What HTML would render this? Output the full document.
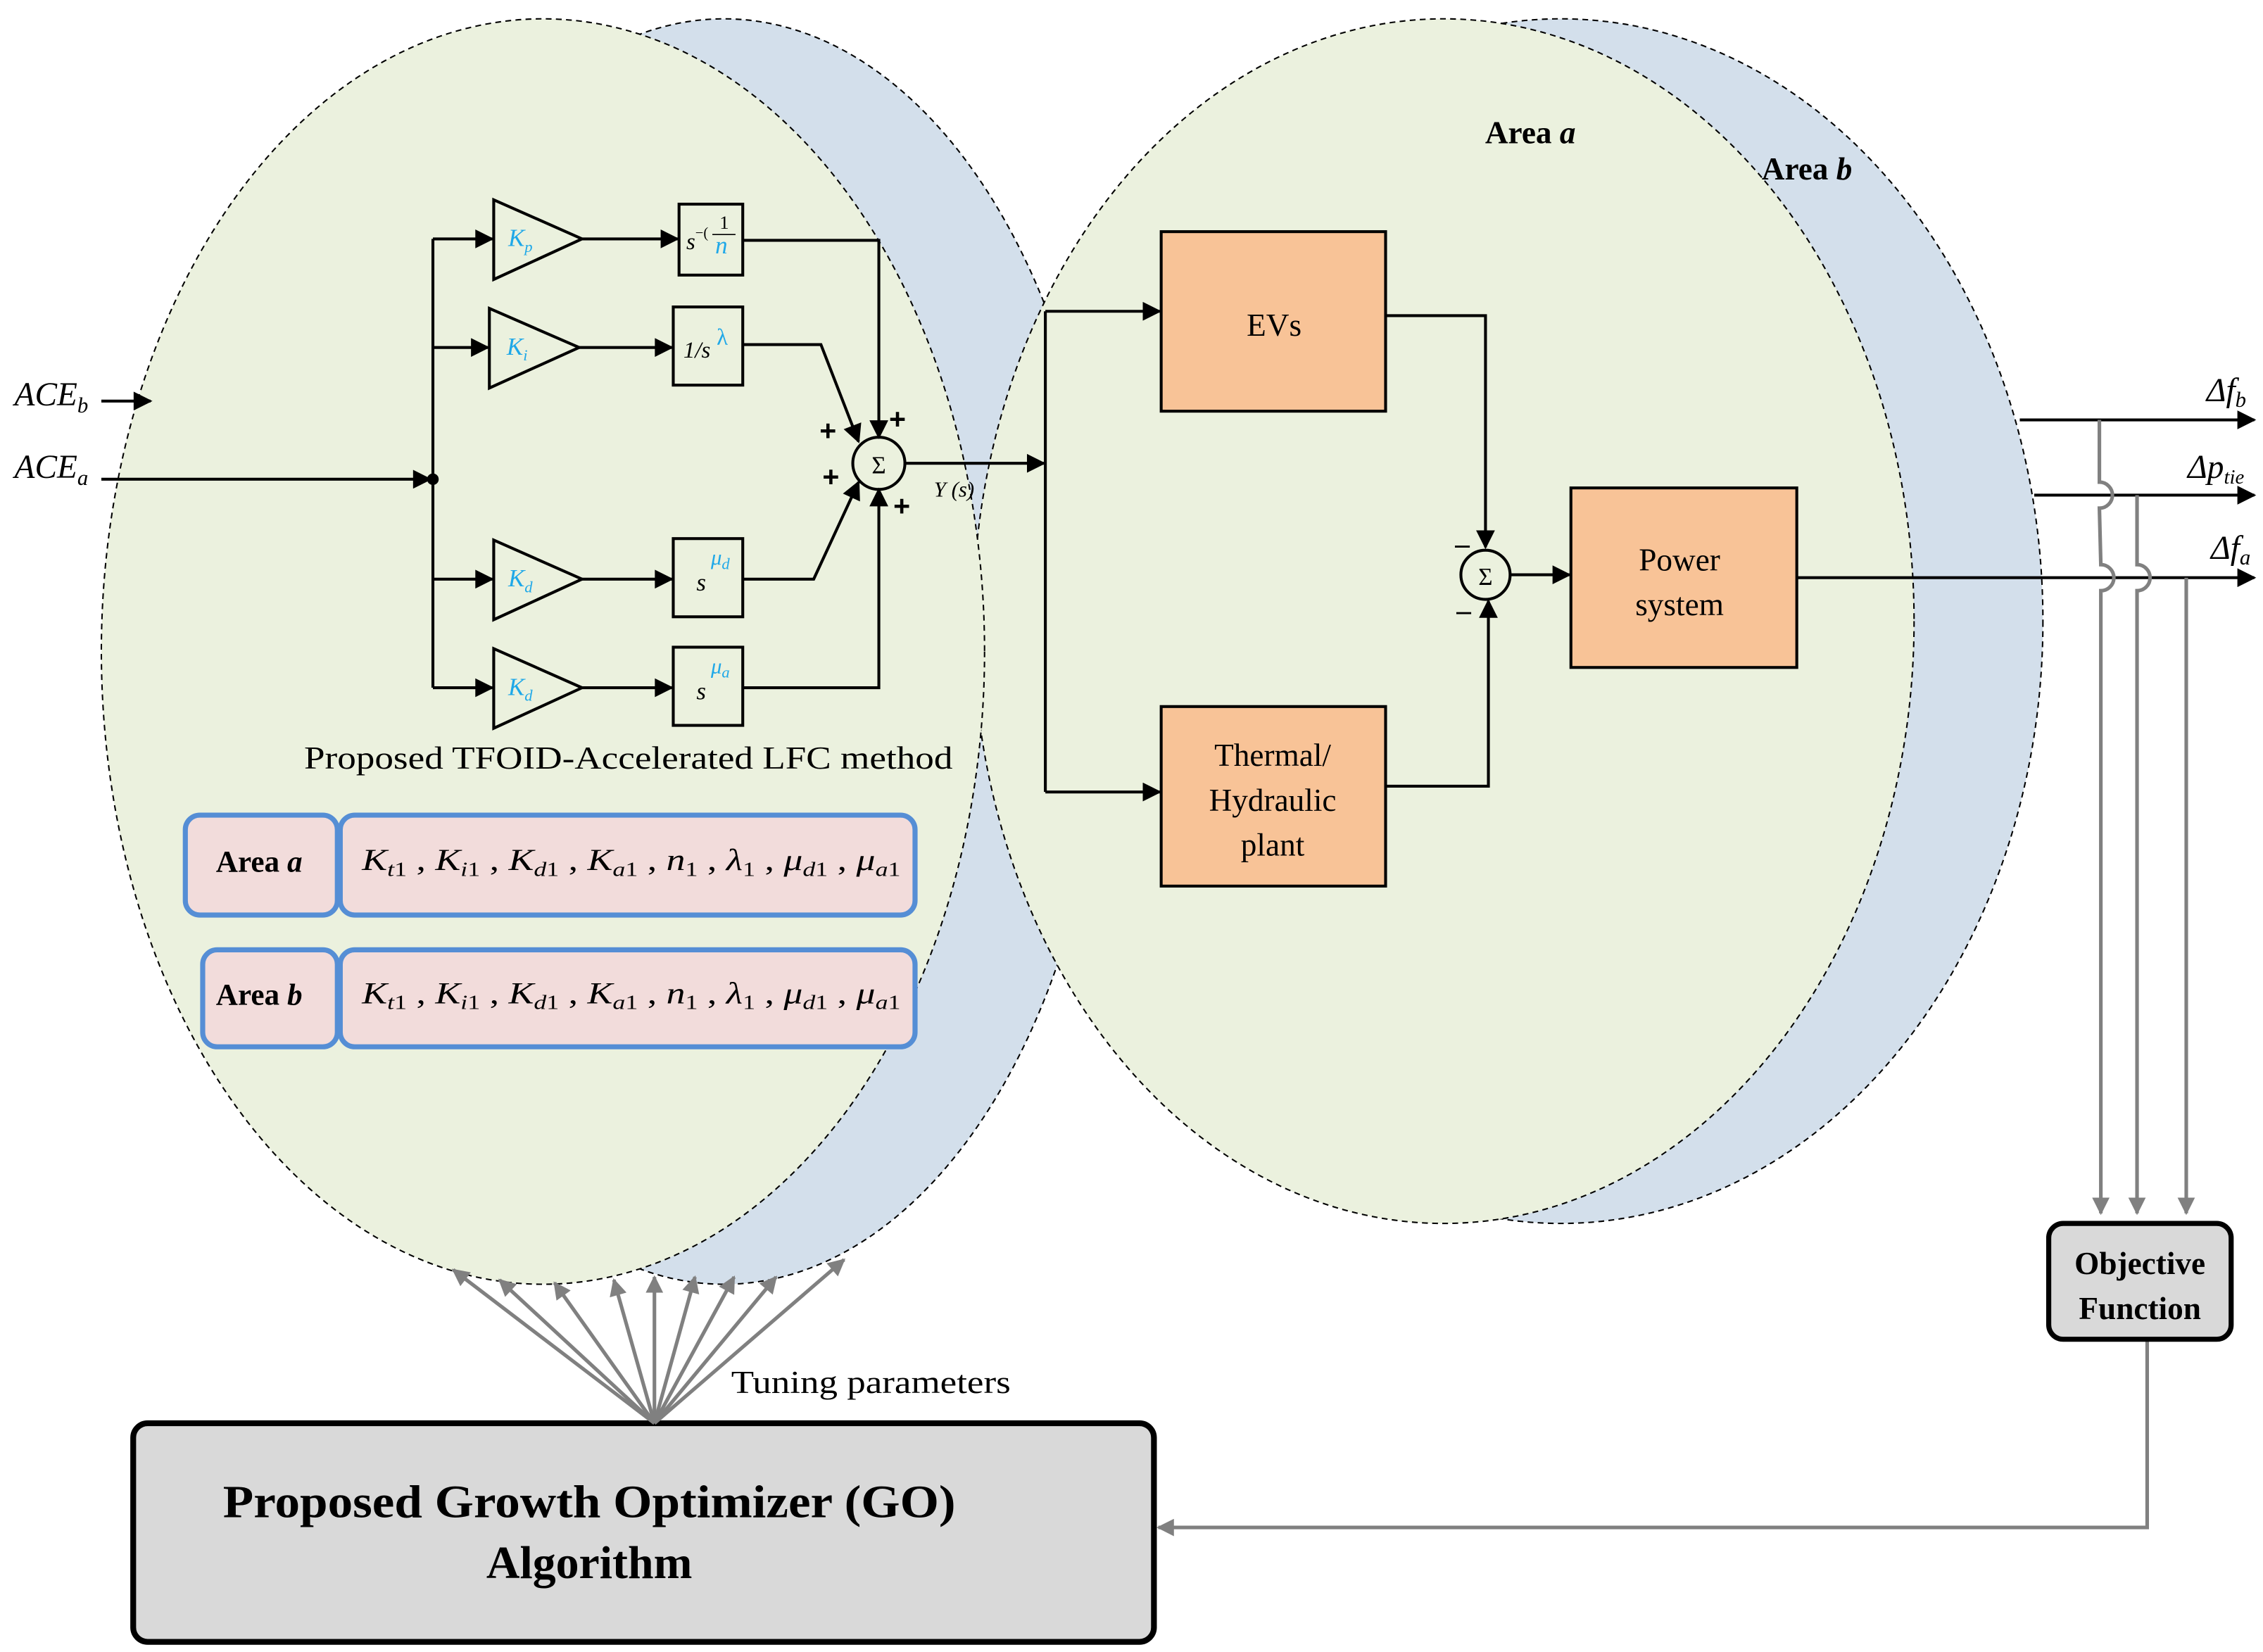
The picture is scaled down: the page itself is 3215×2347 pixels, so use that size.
<!DOCTYPE html>
<html><head><meta charset="utf-8"><style>
html,body{margin:0;padding:0;background:#fff;}
svg{display:block;font-family:"Liberation Serif",serif;}
</style></head><body>
<svg width="3215" height="2347" viewBox="0 0 1563 1141" preserveAspectRatio="none" xmlns="http://www.w3.org/2000/svg" font-family="Liberation Serif, serif">
<defs>
<marker id="ab" viewBox="0 0 10 10" refX="9" refY="5" markerWidth="15" markerHeight="13" orient="auto" markerUnits="userSpaceOnUse"><path d="M0,0L10,5L0,10z" fill="#000"/></marker>
<marker id="g" viewBox="0 0 10 10" refX="9" refY="5" markerWidth="14" markerHeight="12" orient="auto" markerUnits="userSpaceOnUse"><path d="M0,0L10,5L0,10z" fill="#808080"/></marker>
</defs>
<rect width="1563" height="1141" fill="#fff"/>
<ellipse cx="500" cy="450" rx="265" ry="437" fill="#d3dfeb" stroke="#000" stroke-dasharray="4,3" stroke-width="1"/>
<ellipse cx="1078" cy="429" rx="333" ry="416" fill="#d3dfeb" stroke="#000" stroke-dasharray="4,3" stroke-width="1"/>
<ellipse cx="997" cy="429" rx="325" ry="416" fill="#ebf1de" stroke="#000" stroke-dasharray="4,3" stroke-width="1"/>
<ellipse cx="375" cy="450" rx="305" ry="437" fill="#ebf1de" stroke="#000" stroke-dasharray="4,3" stroke-width="1"/>

<text x="1057" y="99" font-size="22" font-weight="bold" text-anchor="middle">Area <tspan font-style="italic">a</tspan></text>
<text x="1248" y="124" font-size="22" font-weight="bold" text-anchor="middle">Area <tspan font-style="italic">b</tspan></text>

<g stroke="#000" stroke-width="2" fill="none">
<line x1="70" y1="277" x2="104" y2="277" marker-end="url(#ab)"/>
<line x1="70" y1="331" x2="297" y2="331" marker-end="url(#ab)"/>
<line x1="299" y1="165" x2="299" y2="475"/>
<line x1="299" y1="165" x2="340" y2="165" marker-end="url(#ab)"/>
<line x1="299" y1="240" x2="337" y2="240" marker-end="url(#ab)"/>
<line x1="299" y1="400" x2="340" y2="400" marker-end="url(#ab)"/>
<line x1="299" y1="475" x2="340" y2="475" marker-end="url(#ab)"/>
<path d="M341,138L341,193L402,165z"/>
<path d="M338,213L338,268L400,240z"/>
<path d="M341,373L341,428L402,400z"/>
<path d="M341,448L341,503L402,475z"/>
<line x1="402" y1="165" x2="468" y2="165" marker-end="url(#ab)"/>
<line x1="400" y1="240" x2="464" y2="240" marker-end="url(#ab)"/>
<line x1="402" y1="400" x2="464" y2="400" marker-end="url(#ab)"/>
<line x1="402" y1="475" x2="464" y2="475" marker-end="url(#ab)"/>
<rect x="469" y="141" width="44" height="49"/>
<rect x="465" y="212" width="48" height="54"/>
<rect x="465" y="372" width="48" height="54"/>
<rect x="465" y="447" width="48" height="54"/>
<polyline points="513,166 607,166 607,302" marker-end="url(#ab)"/>
<polyline points="513,238 567,238 593,305" marker-end="url(#ab)"/>
<polyline points="513,400 562,400 593,333" marker-end="url(#ab)"/>
<polyline points="513,475 607,475 607,338" marker-end="url(#ab)"/>
<circle cx="607" cy="320" r="18"/>
<line x1="625" y1="320" x2="721" y2="320" marker-end="url(#ab)"/>
<line x1="722" y1="215" x2="722" y2="547"/>
<line x1="722" y1="215" x2="801" y2="215" marker-end="url(#ab)"/>
<line x1="722" y1="547" x2="801" y2="547" marker-end="url(#ab)"/>
</g>
<circle cx="299" cy="331" r="4" fill="#000"/>
<text x="607" y="327" font-size="17" text-anchor="middle">Σ</text>
<g font-size="20" font-weight="bold" font-family="Liberation Sans, sans-serif">
<text x="614" y="296">+</text><text x="566" y="304">+</text><text x="568" y="336">+</text><text x="617" y="356">+</text>
</g>
<text x="645" y="343" font-size="15" font-style="italic">Y (s)</text>
<g font-style="italic" fill="#1fa8e8" font-size="17">
<text x="351" y="170">K<tspan font-size="11" dy="4">p</tspan></text>
<text x="350" y="245">K<tspan font-size="11" dy="4">i</tspan></text>
<text x="351" y="405">K<tspan font-size="11" dy="4">d</tspan></text>
<text x="351" y="480">K<tspan font-size="11" dy="4">d</tspan></text>
</g>
<text x="474" y="172" font-size="16" font-style="italic">s<tspan font-size="10" dy="-8" font-style="normal">−(</tspan></text>
<text x="497" y="158" font-size="13">1</text>
<line x1="492" y1="162" x2="508" y2="162" stroke="#000" stroke-width="0.8"/>
<text x="494" y="175" font-size="17" font-style="italic" fill="#1fa8e8">n</text>
<text x="472" y="247" font-size="16" font-style="italic">1/s</text>
<text x="495" y="238" font-size="16" fill="#1fa8e8">λ</text>
<text x="481" y="408" font-size="17" font-style="italic">s</text>
<text x="491" y="390" font-size="15" font-style="italic" fill="#1fa8e8">μ<tspan font-size="11" dy="3">d</tspan></text>
<text x="481" y="483" font-size="17" font-style="italic">s</text>
<text x="491" y="465" font-size="15" font-style="italic" fill="#1fa8e8">μ<tspan font-size="11" dy="3">a</tspan></text>

<text x="210" y="531" font-size="22" textLength="448" lengthAdjust="spacingAndGlyphs">Proposed TFOID-Accelerated LFC method</text>

<g fill="#f2dcdb" stroke="#558ed5" stroke-width="3.5">
<rect x="128" y="563" width="105" height="69" rx="10"/>
<rect x="235" y="563" width="397" height="69" rx="10"/>
<rect x="140" y="656" width="93" height="67" rx="10"/>
<rect x="235" y="656" width="397" height="67" rx="10"/>
</g>
<text x="179" y="602" font-size="21" font-weight="bold" text-anchor="middle">Area <tspan font-style="italic">a</tspan></text>
<text x="179" y="694" font-size="21" font-weight="bold" text-anchor="middle">Area <tspan font-style="italic">b</tspan></text>
<g font-size="21" font-style="italic">
<text x="250" y="601" textLength="372" lengthAdjust="spacingAndGlyphs">K<tspan font-size="14" dy="4">t</tspan><tspan font-size="14" font-style="normal">1</tspan><tspan dy="-4" font-style="normal"> , </tspan>K<tspan font-size="14" dy="4">i</tspan><tspan font-size="14" font-style="normal">1</tspan><tspan dy="-4" font-style="normal">  , </tspan>K<tspan font-size="14" dy="4">d</tspan><tspan font-size="14" font-style="normal">1</tspan><tspan dy="-4" font-style="normal"> , </tspan>K<tspan font-size="14" dy="4">a</tspan><tspan font-size="14" font-style="normal">1</tspan><tspan dy="-4" font-style="normal"> , </tspan>n<tspan font-size="14" dy="4" font-style="normal">1</tspan><tspan dy="-4" font-style="normal"> , </tspan>λ<tspan font-size="14" dy="4" font-style="normal">1</tspan><tspan dy="-4" font-style="normal"> , </tspan>μ<tspan font-size="14" dy="4">d</tspan><tspan font-size="14" font-style="normal">1</tspan><tspan dy="-4" font-style="normal"> , </tspan>μ<tspan font-size="14" dy="4">a</tspan><tspan font-size="14" font-style="normal">1</tspan></text>
<text x="250" y="693" textLength="372" lengthAdjust="spacingAndGlyphs">K<tspan font-size="14" dy="4">t</tspan><tspan font-size="14" font-style="normal">1</tspan><tspan dy="-4" font-style="normal"> , </tspan>K<tspan font-size="14" dy="4">i</tspan><tspan font-size="14" font-style="normal">1</tspan><tspan dy="-4" font-style="normal">  , </tspan>K<tspan font-size="14" dy="4">d</tspan><tspan font-size="14" font-style="normal">1</tspan><tspan dy="-4" font-style="normal"> , </tspan>K<tspan font-size="14" dy="4">a</tspan><tspan font-size="14" font-style="normal">1</tspan><tspan dy="-4" font-style="normal"> , </tspan>n<tspan font-size="14" dy="4" font-style="normal">1</tspan><tspan dy="-4" font-style="normal"> , </tspan>λ<tspan font-size="14" dy="4" font-style="normal">1</tspan><tspan dy="-4" font-style="normal"> , </tspan>μ<tspan font-size="14" dy="4">d</tspan><tspan font-size="14" font-style="normal">1</tspan><tspan dy="-4" font-style="normal"> , </tspan>μ<tspan font-size="14" dy="4">a</tspan><tspan font-size="14" font-style="normal">1</tspan></text>
</g>

<text x="10" y="280" font-size="23" font-style="italic">ACE<tspan font-size="15" dy="5">b</tspan></text>
<text x="10" y="330" font-size="23" font-style="italic">ACE<tspan font-size="15" dy="5">a</tspan></text>

<g fill="#f8c397" stroke="#000" stroke-width="2">
<rect x="802" y="160" width="155" height="124"/>
<rect x="802" y="488" width="155" height="124"/>
<rect x="1085" y="337" width="156" height="124"/>
</g>
<text x="880" y="232" font-size="22" text-anchor="middle">EVs</text>
<text x="879" y="529" font-size="22" text-anchor="middle">Thermal/</text>
<text x="879" y="560" font-size="22" text-anchor="middle">Hydraulic</text>
<text x="879" y="591" font-size="22" text-anchor="middle">plant</text>
<text x="1160" y="394" font-size="22" text-anchor="middle">Power</text>
<text x="1160" y="425" font-size="22" text-anchor="middle">system</text>
<g stroke="#000" stroke-width="2" fill="none">
<polyline points="957,218 1026,218 1026,378" marker-end="url(#ab)"/>
<polyline points="957,543 1028,543 1028,415" marker-end="url(#ab)"/>
<circle cx="1026" cy="397" r="17"/>
<line x1="1043" y1="397" x2="1084" y2="397" marker-end="url(#ab)"/>
<line x1="1241" y1="399" x2="1557" y2="399" marker-end="url(#ab)"/>
<line x1="1395" y1="290" x2="1557" y2="290" marker-end="url(#ab)"/>
<line x1="1405" y1="342" x2="1557" y2="342" marker-end="url(#ab)"/>
</g>
<text x="1026" y="404" font-size="17" text-anchor="middle">Σ</text>
<text x="1005" y="382" font-size="20" font-weight="bold">–</text>
<text x="1006" y="428" font-size="20" font-weight="bold">–</text>
<text x="1524" y="277" font-size="23" font-style="italic">Δf<tspan font-size="15" dy="4">b</tspan></text>
<text x="1511" y="330" font-size="23" font-style="italic">Δp<tspan font-size="14" dy="4">tie</tspan></text>
<text x="1527" y="386" font-size="23" font-style="italic">Δf<tspan font-size="15" dy="4">a</tspan></text>

<g stroke="#808080" stroke-width="2.5" fill="none">
<path d="M1450,290 L1450,333 A9,9 0 0 1 1450,351 L1451,390 A9,9 0 0 1 1451,408 L1451,838" marker-end="url(#g)"/>
<path d="M1476,342 L1476,390 A9,9 0 0 1 1476,408 L1476,838" marker-end="url(#g)"/>
<path d="M1510,399 L1510,838" marker-end="url(#g)"/>
<polyline points="1483,925 1483,1055 800,1055" marker-end="url(#g)"/>
</g>
<rect x="1415" y="845" width="126" height="80" rx="10" fill="#d9d9d9" stroke="#000" stroke-width="3.5"/>
<text x="1478" y="880" font-size="22" font-weight="bold" text-anchor="middle">Objective</text>
<text x="1478" y="911" font-size="22" font-weight="bold" text-anchor="middle">Function</text>

<rect x="92" y="983" width="705" height="151" rx="10" fill="#d9d9d9" stroke="#000" stroke-width="4"/>
<text x="154" y="1048" font-size="32" font-weight="bold" textLength="506" lengthAdjust="spacingAndGlyphs">Proposed Growth Optimizer (GO)</text>
<text x="407" y="1090" font-size="32" font-weight="bold" text-anchor="middle">Algorithm</text>
<g stroke="#808080" stroke-width="2.5">
<line x1="452" y1="983" x2="313" y2="877" marker-end="url(#g)"/>
<line x1="452" y1="983" x2="345" y2="884" marker-end="url(#g)"/>
<line x1="452" y1="983" x2="383" y2="886" marker-end="url(#g)"/>
<line x1="452" y1="983" x2="424" y2="884" marker-end="url(#g)"/>
<line x1="452" y1="983" x2="452" y2="882" marker-end="url(#g)"/>
<line x1="452" y1="983" x2="480" y2="882" marker-end="url(#g)"/>
<line x1="452" y1="983" x2="507" y2="882" marker-end="url(#g)"/>
<line x1="452" y1="983" x2="536" y2="882" marker-end="url(#g)"/>
<line x1="452" y1="983" x2="583" y2="870" marker-end="url(#g)"/>
</g>
<text x="505" y="962" font-size="22" textLength="193" lengthAdjust="spacingAndGlyphs">Tuning parameters</text>
</svg>
</body></html>
